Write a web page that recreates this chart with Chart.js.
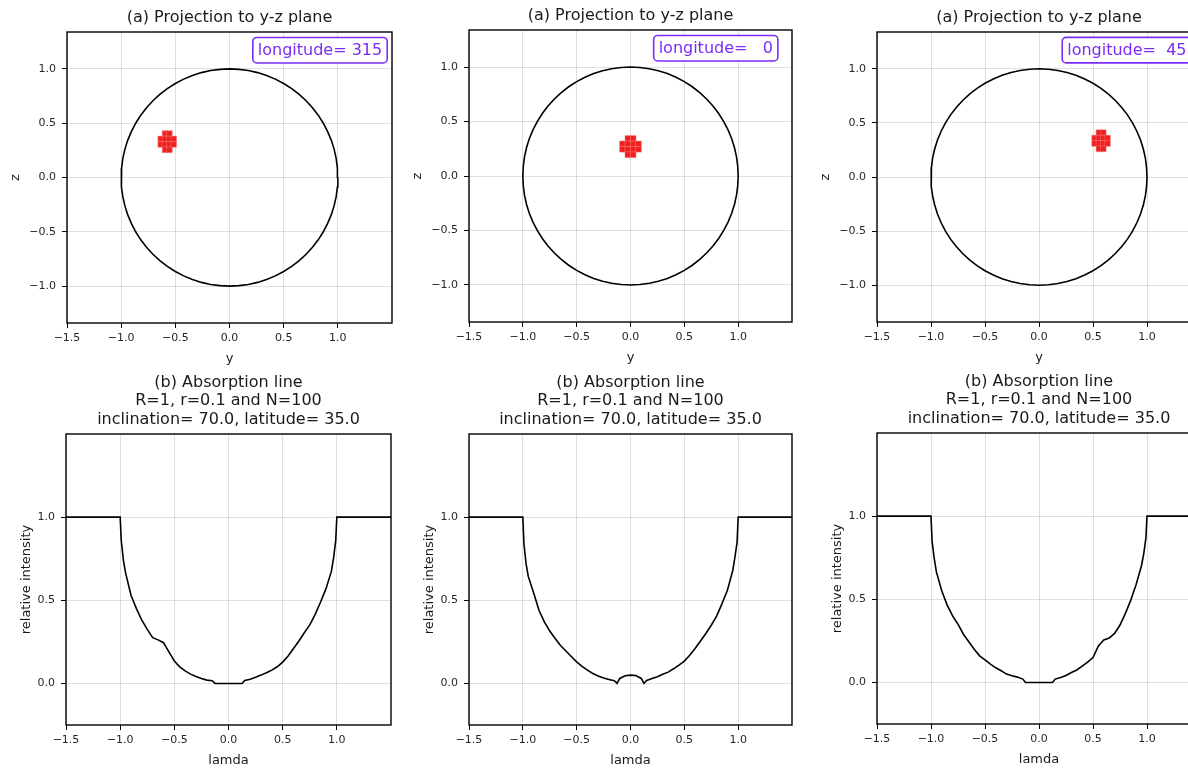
<!DOCTYPE html>
<html>
<head>
<meta charset="utf-8">
<script src="https://cdn.jsdelivr.net/npm/chart.js@4.4.1/dist/chart.umd.min.js"></script>
<style>
  body { margin: 0; background: #fff; overflow: hidden; }
  #page { position: relative; width: 1188px; height: 768px; overflow: hidden; }
  canvas { position: absolute; }
</style>
</head>
<body>
<div id="page">
  <canvas id="proj1"></canvas>
  <canvas id="proj2"></canvas>
  <canvas id="proj3"></canvas>
  <canvas id="line1"></canvas>
  <canvas id="line2"></canvas>
  <canvas id="line3"></canvas>
</div>
<script>
// ---- data ----
const longitudes = [315, 0, 45];

const xTicks = [-1.5, -1.0, -0.5, 0.0, 0.5, 1.0];
const zTicks = [-1.0, -0.5, 0.0, 0.5, 1.0];
const intensityTicks = [0.0, 0.5, 1.0];

// the star's limb (unit circle), every 5 degrees
const circleY = [1, 0.996, 0.985, 0.966, 0.94, 0.906, 0.866, 0.819, 0.766, 0.707, 0.643, 0.574, 0.5, 0.423, 0.342, 0.259, 0.174, 0.087, 0,
                 -0.087, -0.174, -0.259, -0.342, -0.423, -0.5, -0.574, -0.643, -0.707, -0.766, -0.819, -0.866, -0.906, -0.94, -0.966, -0.985, -0.996, -1,
                 -0.996, -0.985, -0.966, -0.94, -0.906, -0.866, -0.819, -0.766, -0.707, -0.643, -0.574, -0.5, -0.423, -0.342, -0.259, -0.174, -0.087, 0,
                 0.087, 0.174, 0.259, 0.342, 0.423, 0.5, 0.574, 0.643, 0.707, 0.766, 0.819, 0.866, 0.906, 0.94, 0.966, 0.985, 0.996, 1];
const circleZ = [0, 0.087, 0.174, 0.259, 0.342, 0.423, 0.5, 0.574, 0.643, 0.707, 0.766, 0.819, 0.866, 0.906, 0.94, 0.966, 0.985, 0.996, 1,
                 0.996, 0.985, 0.966, 0.94, 0.906, 0.866, 0.819, 0.766, 0.707, 0.643, 0.574, 0.5, 0.423, 0.342, 0.259, 0.174, 0.087, 0,
                 -0.087, -0.174, -0.259, -0.342, -0.423, -0.5, -0.574, -0.643, -0.707, -0.766, -0.819, -0.866, -0.906, -0.94, -0.966, -0.985, -0.996, -1,
                 -0.996, -0.985, -0.966, -0.94, -0.906, -0.866, -0.819, -0.766, -0.707, -0.643, -0.574, -0.5, -0.423, -0.342, -0.259, -0.174, -0.087, 0];

// spot cells
const spotY315 = [-0.595, -0.555, -0.635, -0.595, -0.555, -0.515, -0.635, -0.595, -0.555, -0.515, -0.595, -0.555];
const spotZ315 = [0.405, 0.405, 0.355, 0.355, 0.355, 0.355, 0.305, 0.305, 0.305, 0.305, 0.255, 0.255];
const spotY0 = [-0.025, 0.025, -0.075, -0.025, 0.025, 0.075, -0.075, -0.025, 0.025, 0.075, -0.025, 0.025];
const spotZ0 = [0.345, 0.345, 0.295, 0.295, 0.295, 0.295, 0.245, 0.245, 0.245, 0.245, 0.195, 0.195];
const spotY45 = [0.555, 0.595, 0.515, 0.555, 0.595, 0.635, 0.515, 0.555, 0.595, 0.635, 0.555, 0.595];
const spotZ45 = [0.41, 0.41, 0.36, 0.36, 0.36, 0.36, 0.31, 0.31, 0.31, 0.31, 0.26, 0.26];

// absorption line profiles
const lamda = [-1.5, -1.0, -0.99, -0.97, -0.95, -0.9, -0.85, -0.8, -0.75, -0.7,
               -0.65, -0.6, -0.55, -0.5, -0.45, -0.4, -0.35, -0.3, -0.25, -0.2,
               -0.15, -0.125, -0.1, -0.05, 0, 0.05, 0.1, 0.125, 0.15, 0.2,
               0.25, 0.3, 0.35, 0.4, 0.45, 0.5, 0.55, 0.6, 0.65, 0.7,
               0.75, 0.8, 0.85, 0.9, 0.95, 0.97, 0.99, 1.0, 1.5];
const intensity315 = [1, 1, 0.86, 0.74, 0.665, 0.53, 0.45, 0.38, 0.325, 0.275,
                      0.262, 0.245, 0.19, 0.135, 0.1, 0.075, 0.056, 0.042, 0.03, 0.02,
                      0.016, 0, 0, 0, 0, 0, 0, 0, 0.018, 0.025,
                      0.037, 0.05, 0.064, 0.08, 0.1, 0.128, 0.165, 0.21, 0.255, 0.305,
                      0.352, 0.415, 0.49, 0.57, 0.675, 0.755, 0.86, 1, 1];
const intensity0 = [1, 1, 0.84, 0.72, 0.645, 0.545, 0.44, 0.37, 0.315, 0.27,
                    0.228, 0.195, 0.162, 0.13, 0.103, 0.08, 0.06, 0.045, 0.032, 0.024,
                    0.016, 0, 0.03, 0.046, 0.05, 0.048, 0.03, 0, 0.018, 0.03,
                    0.04, 0.055, 0.068, 0.088, 0.11, 0.134, 0.17, 0.21, 0.255, 0.3,
                    0.35, 0.405, 0.48, 0.56, 0.68, 0.76, 0.85, 1, 1];
const intensity45 = [1, 1, 0.85, 0.745, 0.665, 0.55, 0.465, 0.4, 0.35, 0.29,
                     0.245, 0.2, 0.16, 0.135, 0.11, 0.088, 0.07, 0.05, 0.04, 0.032,
                     0.02, 0, 0, 0, 0, 0, 0, 0, 0.02, 0.03,
                     0.042, 0.06, 0.075, 0.098, 0.122, 0.15, 0.22, 0.255, 0.267, 0.295,
                     0.345, 0.415, 0.495, 0.59, 0.705, 0.775, 0.87, 1, 1];

const projTitle = ['(a) Projection to y-z plane'];
const lineTitle = ['(b) Absorption line', 'R=1, r=0.1 and N=100', 'inclination= 70.0, latitude= 35.0'];

// ---- drawing ----
Chart.defaults.font.family = "'DejaVu Sans', sans-serif";
Chart.defaults.color = '#262626';

const pairs = (xs, ys) => xs.map((x, i) => ({ x: x, y: ys[i] }));
const fmt = v => v.toFixed(1).replace('-', '\u2212');

// title lines centred over the axes, frame round the axes, longitude box
const panelPlugin = {
  id: 'panel',
  afterDraw(chart, args, opts) {
    const ctx = chart.ctx;
    const a = chart.chartArea;
    ctx.save();
    ctx.strokeStyle = '#000';
    ctx.lineWidth = 1.4;
    ctx.strokeRect(a.left, a.top, a.right - a.left, a.bottom - a.top);

    ctx.fillStyle = '#1a1a1a';
    ctx.font = "16px 'DejaVu Sans'";
    ctx.textAlign = 'center';
    ctx.textBaseline = 'middle';
    const n = opts.lines.length;
    opts.lines.forEach((t, i) => {
      ctx.fillText(t, (a.left + a.right) / 2, a.top - 14.5 - (n - 1 - i) * 18.3);
    });

    if (opts.label) {
      const bx = chart.scales.x.getPixelForValue(0.215);
      const by = chart.scales.y.getPixelForValue(1.29);
      ctx.textAlign = 'left';
      const w = ctx.measureText(opts.label).width + 10;
      const h = 25.5;
      ctx.beginPath();
      ctx.roundRect(bx, by, w, h, 4);
      ctx.fillStyle = '#fff';
      ctx.fill();
      ctx.strokeStyle = '#7b2cf6';
      ctx.lineWidth = 1.6;
      ctx.stroke();
      ctx.fillStyle = '#7b2cf6';
      ctx.fillText(opts.label, bx + 5, by + h / 2 + 1);
    }
    ctx.restore();
  }
};

function axis(ticks, min, max, title, fixed, isX) {
  return {
    type: 'linear',
    min: min,
    max: max,
    border: { display: false },
    grid: { color: 'rgba(0,0,0,0.12)', tickColor: '#000', tickLength: 5 },
    ticks: { font: { size: 11 }, padding: isX ? 4 : 6, callback: v => fmt(v) },
    afterBuildTicks: s => { s.ticks = ticks.map(v => ({ value: v })); },
    afterFit: s => { if (isX) s.height = fixed; else s.width = fixed; },
    title: { display: true, text: title, color: '#1a1a1a', font: { size: 13 },
             padding: isX ? { top: 0, bottom: 3 } : { top: 1, bottom: 0 } }
  };
}

function place(id, plotLeft, canvasTop, plotTop, plotW, plotH, yw) {
  const c = document.getElementById(id);
  c.width = yw + plotW + 8;
  c.height = (plotTop - canvasTop) + plotH + 46;
  c.style.left = (plotLeft - yw) + 'px';
  c.style.top = canvasTop + 'px';
  return c;
}

function makeProjection(id, spotY, spotZ, longitude, box) {
  const c = place(id, box[0], 0, box[1], box[2], box[3], 60);
  new Chart(c, {
    type: 'scatter',
    data: {
      datasets: [
        { data: pairs(circleY, circleZ), showLine: true, borderColor: '#000', borderWidth: 1.6,
          pointRadius: 0, tension: 0 },
        { data: pairs(spotY, spotZ), pointStyle: 'rect', pointRadius: 4,
          backgroundColor: 'rgb(238,32,32)', borderColor: 'rgba(255,120,120,0.8)', borderWidth: 0.6 }
      ]
    },
    options: {
      responsive: false,
      animation: false,
      devicePixelRatio: 1,
      layout: { padding: { top: box[1], right: 8, left: 0, bottom: 0 } },
      plugins: {
        legend: { display: false },
        tooltip: { enabled: false },
        panel: { lines: projTitle, label: 'longitude=' + String(longitude).padStart(4, ' ') }
      },
      scales: {
        x: axis(xTicks, -1.5, 1.5, 'y', 46, true),
        y: axis(zTicks, -1.34, 1.34, 'z', 60, false)
      }
    },
    plugins: [panelPlugin]
  });
}

function makeProfile(id, intensity, box) {
  const top = 365;
  const c = place(id, box[0], top, box[1], box[2], box[3], 48);
  new Chart(c, {
    type: 'scatter',
    data: {
      datasets: [
        { data: pairs(lamda, intensity), showLine: true, borderColor: '#000', borderWidth: 1.6,
          pointRadius: 0, tension: 0 }
      ]
    },
    options: {
      responsive: false,
      animation: false,
      devicePixelRatio: 1,
      layout: { padding: { top: box[1] - top, right: 8, left: 0, bottom: 0 } },
      plugins: {
        legend: { display: false },
        tooltip: { enabled: false },
        panel: { lines: lineTitle }
      },
      scales: {
        x: axis(xTicks, -1.5, 1.5, 'lamda', 46, true),
        y: axis(intensityTicks, -0.25, 1.5, 'relative intensity', 48, false)
      }
    },
    plugins: [panelPlugin]
  });
}

// plot boxes: left, top, width, height
makeProjection('proj1', spotY315, spotZ315, longitudes[0], [67, 32, 325, 291]);
makeProjection('proj2', spotY0, spotZ0, longitudes[1], [469, 30, 323, 292]);
makeProjection('proj3', spotY45, spotZ45, longitudes[2], [877, 32, 324, 290]);
makeProfile('line1', intensity315, [66, 434, 325, 291]);
makeProfile('line2', intensity0, [469, 434, 323, 291]);
makeProfile('line3', intensity45, [877, 433, 324, 291]);
</script>
</body>
</html>
